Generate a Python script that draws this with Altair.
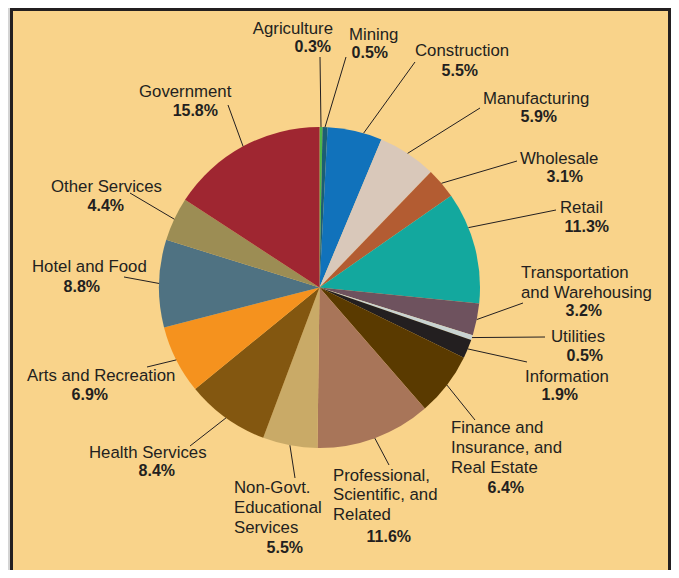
import math
import altair as alt
import pandas as pd

# ---------------- data ----------------
sectors = ["Agriculture", "Mining", "Construction", "Manufacturing", "Wholesale", "Retail",
           "Transportation and Warehousing", "Utilities", "Information",
           "Finance and Insurance, and Real Estate", "Professional, Scientific, and Related",
           "Non-Govt. Educational Services", "Health Services", "Arts and Recreation",
           "Hotel and Food", "Other Services", "Government"]
shares = [0.3, 0.5, 5.5, 5.9, 3.1, 11.3, 3.2, 0.5, 1.9, 6.4, 11.6, 5.5, 8.4, 6.9, 8.8, 4.4, 15.8]
label_text = ["Agriculture", "Mining", "Construction", "Manufacturing", "Wholesale", "Retail",
              "Transportation\nand Warehousing", "Utilities", "Information",
              "Finance and\nInsurance, and\nReal Estate", "Professional,\nScientific, and\nRelated",
              "Non-Govt.\nEducational\nServices", "Health Services", "Arts and Recreation",
              "Hotel and Food", "Other Services", "Government"]
colors = ["#4DB848", "#1C5E73", "#1172BB", "#D9C8BA", "#B35C32", "#13A89E", "#6E525E",
          "#C9D3D2", "#231F20", "#5A3A00", "#A87559", "#C9AA67", "#835710", "#F5921E",
          "#4F7282", "#9C8D54", "#9F2631"]

# ---------------- layout (page pixels) ----------------
MARGIN = 8
W, H = 663, 562
CX, CY, R = 319.5 - MARGIN, 287.5 - MARGIN, 160.5
name_x = [333, 349, 415, 483, 520, 560, 521, 551, 525, 451, 333, 234, 89, 27, 32, 51, 139]
name_y = [34, 40, 56, 104, 164, 213, 278, 342, 382, 433, 480.5, 493, 458, 381, 272, 192, 97]
name_align = ["right"] + ["left"] * 16
pct_right = [331, 388, 478, 557, 583, 609, 602, 603, 578, 524, 411, 303, 175, 108, 100, 124, 218]
pct_y = [51.5, 57.5, 76, 122, 182, 232, 316, 361, 400, 492.5, 541.5, 553, 476, 399.5, 292, 211, 116]
line_end_x = [320, 346, 415, 480, 517, 556, 523, 545, 527, 475, 389, 295, 190, 147, 124, 130, 228]
line_end_y = [57, 57, 62, 108, 161, 210, 303, 337, 362, 420, 465, 478, 446, 367, 277, 193, 105]
anchor_frac = [0.5, 0.5, 0.66, 0.5, 0.5, 0.32, 0.5, 0.5, 0.5, 0.5, 0.5, 0.5, 0.5, 0.5, 0.5, 0.5, 0.5]

BG = "#F9D38A"
INK = "#231F20"
FONT = "Liberation Sans"
FS_NAME = 16.8
FS_PCT = 16

pie_df = pd.DataFrame({"idx": range(len(sectors)), "sector": sectors, "value": shares})

total = sum(shares)
rows = []
cum = 0.0
for i, v in enumerate(shares):
    ang = 2 * math.pi * (cum + anchor_frac[i] * v) / total
    cum += v
    rows.append({
        "sector": sectors[i],
        "x": CX + R * math.sin(ang), "y": CY - R * math.cos(ang),
        "x2": line_end_x[i] - MARGIN, "y2": line_end_y[i] - MARGIN,
        "name": label_text[i], "nx": name_x[i] - MARGIN, "ny": name_y[i] - MARGIN,
        "align": name_align[i],
        "pct": f"{v}%", "px": pct_right[i] - MARGIN, "py": pct_y[i] - MARGIN,
    })
lab_df = pd.DataFrame(rows)

xs = alt.Scale(domain=[0, W], range=[0, W], nice=False, zero=False)
ys = alt.Scale(domain=[0, H], range=[0, H], nice=False, zero=False)

panel = alt.Chart(pd.DataFrame({"a": [0]})).mark_rect(
    fill=BG, stroke=INK, strokeWidth=3
).encode(x=alt.value(3.5), x2=alt.value(661.5), y=alt.value(1.5), y2=alt.value(620))

pie = alt.Chart(pie_df).mark_arc(radius=R).encode(
    theta=alt.Theta("value:Q", stack=True),
    order=alt.Order("idx:Q"),
    color=alt.Color("sector:N", scale=alt.Scale(domain=sectors, range=colors), legend=None),
    x=alt.value(CX), y=alt.value(CY),
)

leaders = alt.Chart(lab_df).mark_rule(color=INK, strokeWidth=1).encode(
    x=alt.X("x:Q", scale=xs, axis=None), y=alt.Y("y:Q", scale=ys, axis=None),
    x2="x2:Q", y2="y2:Q",
)

name_layers = []
for a in ["left", "right"]:
    name_layers.append(
        alt.Chart(lab_df).transform_filter(alt.datum.align == a).mark_text(
            align=a, baseline="alphabetic", font=FONT, fontSize=FS_NAME, color=INK,
            lineBreak="\n", lineHeight=19.75,
        ).encode(
            x=alt.X("nx:Q", scale=xs, axis=None), y=alt.Y("ny:Q", scale=ys, axis=None),
            text="name:N",
        )
    )

pcts = alt.Chart(lab_df).mark_text(
    align="right", baseline="alphabetic", font=FONT, fontSize=FS_PCT, fontWeight="bold", color=INK,
).encode(
    x=alt.X("px:Q", scale=xs, axis=None), y=alt.Y("py:Q", scale=ys, axis=None),
    text="pct:N",
)

chart = alt.layer(panel, pie, leaders, *name_layers, pcts).properties(
    width=W, height=H, padding=0, autosize="none", background="#D4D4D4",
).configure_view(stroke=None)

chart.save("out.html", embed_options={"renderer": "svg", "actions": False})
